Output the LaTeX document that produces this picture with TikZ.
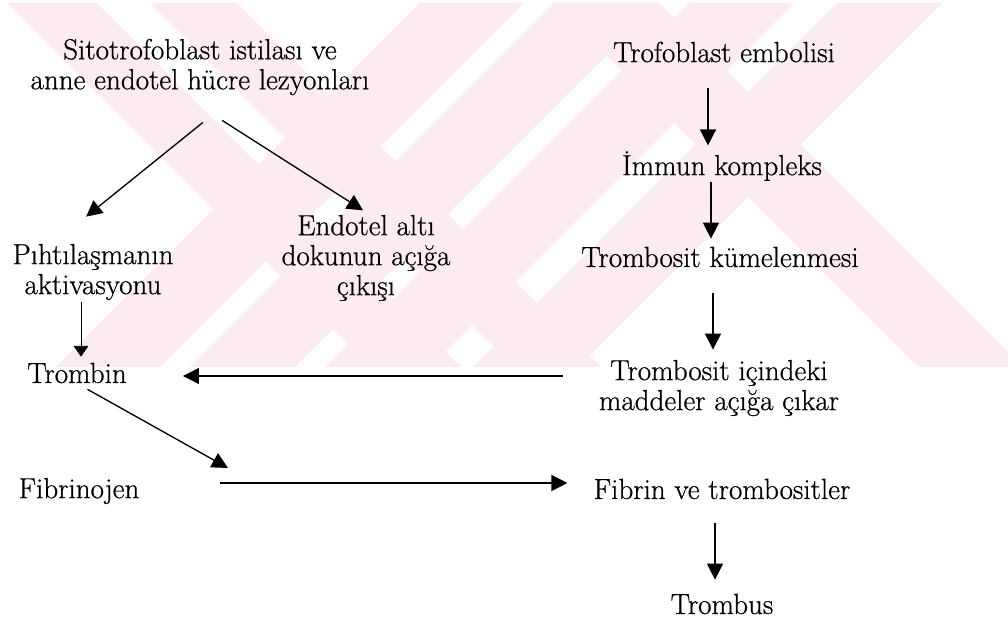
\documentclass[tikz,border=0pt]{standalone}
\usepackage{fontspec}
\setmainfont{Latin Modern Roman}[FakeBold=0.6]
\usetikzlibrary{arrows.meta}
\definecolor{wmpink}{RGB}{252,235,239}
\tikzset{
  lbl/.style={align=center, inner sep=0pt, font=\fontsize{21.8}{22.5}\selectfont},
  arr/.style={-{Triangle[length=12pt,width=12pt]}, line width=1pt},
  thinarr/.style={-{Triangle[length=8pt,width=11pt]}, line width=0.5pt}
}
\begin{document}
\begin{tikzpicture}[x=0.75pt,y=-0.75pt]
                \useasboundingbox (0,0) rectangle (1008,620);
                % watermark stripes
                \begin{scope}
                \clip (0,3) rectangle (1008,367);
                \foreach \a/\b in {7/97,150/237,554/659}
                  \fill[wmpink] (\a,3) -- (\b,3) -- (\b+364,367) -- (\a+364,367) -- cycle;
                \foreach \a/\b in {420/524,554/659,689/794,837/942}
                  \fill[wmpink] (\a,3) -- (\b,3) -- (\b-364,367) -- (\a-364,367) -- cycle;
                \end{scope}

                % left column
                \node[lbl] (sito) at (200,67) {Sitotrofoblast istilası ve\\anne endotel hücre lezyonları};
                \node[lbl] (pihti) at (93,272) {Pıhtılaşmanın\\aktivasyonu};
                \node[lbl] (endo) at (366,258) {Endotel altı\\dokunun açığa\\çıkışı};
                \node[lbl] (trombin) at (77,373) {Trombin};
                \node[lbl] (fibrinojen) at (79,491) {Fibrinojen};

                % right column
                \node[lbl] (trofo) at (724,52) {Trofoblast embolisi};
                \node[lbl] (immun) at (722,166) {İmmun kompleks};
                \node[lbl] (kume) at (720,257) {Trombosit kümelenmesi};
                \node[lbl] (icindeki) at (719,388) {Trombosit içindeki\\maddeler açığa çıkar};
                \node[lbl] (fibrin) at (722,489) {Fibrin ve trombositler};
                \node[lbl] (trombus) at (722,604) {Trombus};

                \coordinate (kat) at (228,468);

                % arrows
                \draw[arr, shorten <=32.3pt, shorten >=32.3pt] ([xshift=27.3pt]sito.south) -- ([xshift=-30.3pt]pihti.north);
                \draw[arr, shorten <=34.7pt, shorten >=6.1pt] ([xshift=-12.7pt]sito.south) -- ([xshift=2.9pt]endo.north);
                \draw[thinarr, shorten <=1.6pt, shorten >=4.4pt] ([xshift=-9pt]pihti.south) -- ([xshift=3pt]trombin.north);
                \draw[arr, shorten <=19.4pt, shorten >=4.1pt] ([xshift=-12pt]trofo.south) -- ([xshift=-10.5pt]immun.north);
                \draw[arr, shorten <=0.4pt, shorten >=5.9pt] ([xshift=-8.25pt]immun.south) -- ([xshift=-6.75pt]kume.north);
                \draw[arr, shorten <=19.4pt, shorten >=7.6pt] ([xshift=-5.25pt]kume.south) -- ([xshift=-4.5pt]icindeki.north);
                \draw[arr, shorten <=27pt, shorten >=42pt] ([yshift=9pt]icindeki.west) -- ([yshift=-2.25pt]trombin.east);
                \draw[arr, shorten <=9pt] (trombin.south) -- (kat);
                \draw[arr, shorten <=60.4pt, shorten >=19.5pt] ([yshift=6pt]fibrinojen.east) -- ([yshift=4.5pt]fibrin.west);
                \draw[arr, shorten <=17.9pt, shorten >=10.4pt] ([xshift=-5.25pt]fibrin.south) -- ([xshift=-5.25pt]trombus.north);
\end{tikzpicture}
\end{document}
